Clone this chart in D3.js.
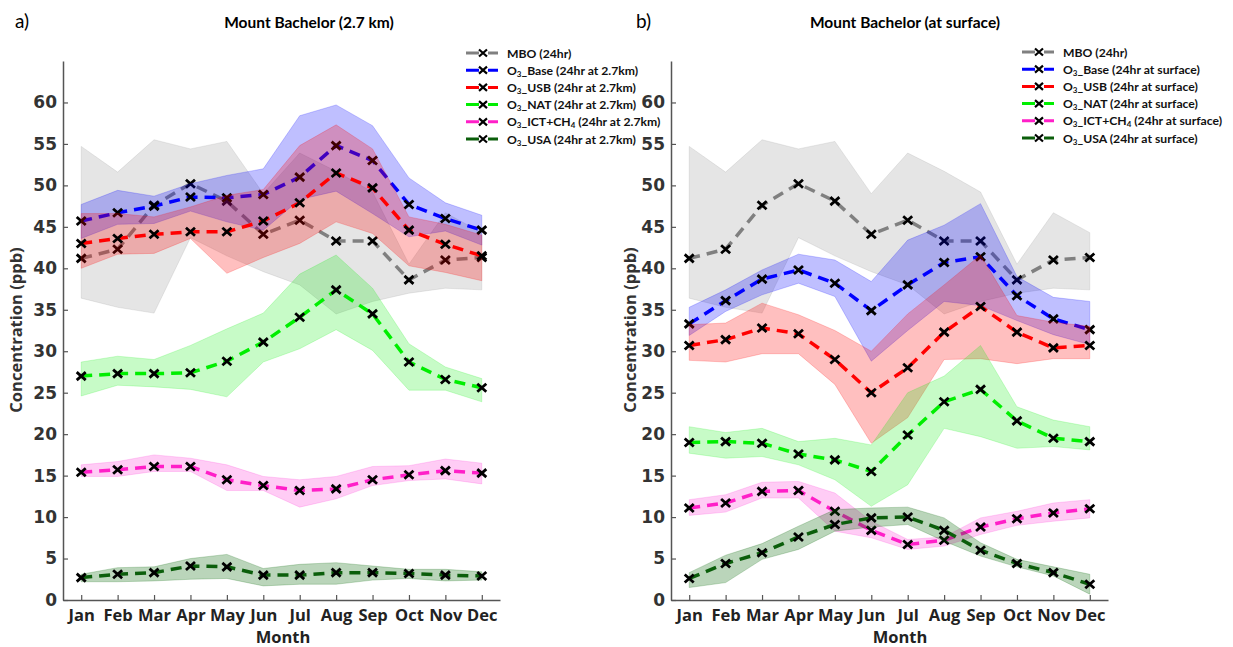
<!DOCTYPE html>
<html>
<head>
<meta charset="utf-8">
<script src="https://cdn.jsdelivr.net/npm/d3@7"></script>
<style>
  body { margin: 0; background: #fff; }
  text { font-family: "DejaVu Sans", sans-serif; }
</style>
</head>
<body>
<div id="chart"></div>
<script>
const months = ["Jan", "Feb", "Mar", "Apr", "May", "Jun", "Jul", "Aug", "Sep", "Oct", "Nov", "Dec"];
const yTicks = [0, 5, 10, 15, 20, 25, 30, 35, 40, 45, 50, 55, 60];

// MBO observations (same in both panels)
const mbo   = [41.2, 42.3, 47.6, 50.2, 48.1, 44.1, 45.8, 43.3, 43.3, 38.6, 41.0, 41.3];
const mboHi = [54.7, 51.6, 55.5, 54.4, 55.3, 49.0, 53.9, 51.7, 49.2, 40.5, 46.7, 44.3];
const mboLo = [36.4, 35.3, 34.6, 43.7, 41.5, 39.6, 38.0, 34.5, 36.0, 37.0, 37.6, 37.4];

// panel a) 24hr at 2.7 km
const base27   = [45.7, 46.7, 47.5, 48.6, 48.5, 48.9, 51.0, 54.8, 53.0, 47.7, 46.0, 44.6];
const baseHi27 = [47.7, 49.4, 48.7, 50.2, 51.2, 52.0, 58.4, 59.7, 57.2, 50.9, 47.9, 46.4];
const baseLo27 = [43.6, 45.3, 45.4, 46.9, 45.6, 44.6, 48.3, 49.3, 46.6, 43.8, 44.5, 42.8];
const usb27    = [43.0, 43.6, 44.1, 44.4, 44.4, 45.7, 47.9, 51.5, 49.7, 44.6, 42.9, 41.5];
const usbHi27  = [46.6, 46.6, 46.2, 47.4, 48.8, 49.5, 54.8, 57.3, 54.4, 46.2, 45.3, 44.0];
const usbLo27  = [40.0, 41.7, 41.8, 43.6, 39.4, 41.3, 43.0, 45.6, 44.2, 40.3, 39.5, 38.5];
const nat27    = [27.0, 27.3, 27.3, 27.4, 28.8, 31.1, 34.1, 37.4, 34.5, 28.7, 26.6, 25.6];
const natHi27  = [28.7, 29.4, 29.0, 30.7, 32.7, 34.6, 39.3, 41.6, 37.6, 30.9, 28.1, 26.7];
const natLo27  = [24.6, 25.9, 25.7, 25.4, 24.5, 28.7, 30.3, 32.6, 30.1, 25.3, 25.3, 23.9];
const ict27    = [15.4, 15.7, 16.1, 16.1, 14.5, 13.8, 13.2, 13.4, 14.5, 15.1, 15.6, 15.3];
const ictHi27  = [16.3, 16.7, 17.5, 17.1, 16.3, 14.9, 14.5, 14.9, 16.1, 16.2, 17.0, 16.5];
const ictLo27  = [14.9, 14.9, 15.5, 15.5, 13.2, 13.2, 11.2, 12.2, 13.8, 14.4, 14.6, 14.0];
const usa27    = [2.7, 3.1, 3.3, 4.1, 4.0, 3.0, 3.0, 3.3, 3.3, 3.2, 3.0, 2.9];
const usaHi27  = [3.1, 3.9, 4.0, 5.0, 5.5, 3.8, 4.3, 4.5, 4.1, 3.7, 3.7, 3.4];
const usaLo27  = [2.2, 2.2, 2.3, 2.5, 2.6, 1.7, 1.9, 1.9, 2.4, 2.6, 2.3, 2.4];

// panel b) 24hr at surface
const baseSfc   = [33.3, 36.1, 38.7, 39.8, 38.2, 34.9, 38.0, 40.7, 41.4, 36.7, 33.9, 32.6];
const baseHiSfc = [35.3, 37.4, 39.8, 41.7, 41.0, 38.4, 43.4, 45.2, 47.8, 39.0, 36.5, 36.0];
const baseLoSfc = [31.9, 34.8, 36.8, 38.2, 36.6, 28.8, 32.5, 36.0, 35.5, 33.7, 32.0, 30.8];
const usbSfc    = [30.7, 31.4, 32.8, 32.1, 29.0, 25.0, 28.0, 32.3, 35.4, 32.3, 30.4, 30.7];
const usbHiSfc  = [33.2, 33.4, 35.8, 34.4, 32.5, 30.0, 34.5, 38.0, 41.6, 34.3, 33.5, 33.0];
const usbLoSfc  = [28.9, 28.7, 29.7, 29.7, 26.0, 18.9, 22.0, 29.0, 29.1, 28.5, 29.1, 29.1];
const natSfc    = [19.0, 19.1, 18.9, 17.6, 16.9, 15.5, 19.9, 23.9, 25.4, 21.6, 19.5, 19.1];
const natHiSfc  = [20.9, 20.2, 20.7, 19.1, 19.5, 18.7, 25.0, 27.0, 30.7, 23.3, 21.7, 20.9];
const natLoSfc  = [17.7, 17.1, 17.3, 16.3, 14.5, 11.3, 13.9, 20.7, 19.7, 18.3, 18.5, 18.1];
const ictSfc    = [11.1, 11.7, 13.1, 13.2, 10.7, 8.4, 6.7, 7.2, 8.8, 9.8, 10.5, 11.0];
const ictHiSfc  = [12.1, 12.7, 14.2, 14.3, 12.9, 9.5, 7.3, 7.6, 9.9, 10.7, 11.7, 12.1];
const ictLoSfc  = [10.2, 10.6, 12.3, 12.3, 8.3, 7.5, 6.1, 6.5, 7.9, 9.0, 9.5, 9.9];
const usaSfc    = [2.6, 4.4, 5.7, 7.6, 9.1, 9.9, 10.0, 8.4, 6.0, 4.4, 3.3, 1.9];
const usaHiSfc  = [3.3, 5.4, 6.8, 8.9, 10.9, 11.1, 11.2, 9.9, 6.9, 4.9, 4.0, 3.1];
const usaLoSfc  = [1.5, 2.1, 4.9, 6.1, 8.3, 8.8, 9.1, 7.1, 5.3, 4.0, 2.9, 0.7];

const labels27  = ["MBO (24hr)", "O{3}_Base (24hr at 2.7km)", "O{3}_USB (24hr at 2.7km)", "O{3}_NAT (24hr at 2.7km)", "O{3}_ICT+CH{4} (24hr at 2.7km)", "O{3}_USA (24hr at 2.7km)"];
const labelsSfc = ["MBO (24hr)", "O{3}_Base (24hr at surface)", "O{3}_USB (24hr at surface)", "O{3}_NAT (24hr at surface)", "O{3}_ICT+CH{4} (24hr at surface)", "O{3}_USA (24hr at surface)"];

const colors = ["#808080", "#0000ff", "#ff0000", "#00ee00", "#ff1fc8", "#0b5e0b"];
const bandColors = ["#999999", "#0000ff", "#ff0000", "#00ee00", "#ff00cc", "#006400"];
const bandAlpha = [0.26, 0.25, 0.25, 0.22, 0.2, 0.27];

const svg = d3.select("#chart")
  .append("svg")
  .attr("width", 1233)
  .attr("height", 647);

const y = d3.scaleLinear().domain([0, 65]).range([600, 61]);

// adds text with {n} turned into subscripts
function richText(sel, str) {
  str.split(/(\{[^}]*\})/).filter(s => s).forEach(part => {
    if (part[0] === "{") {
      sel.append("tspan").attr("baseline-shift", "-25%").attr("font-size", "0.65em").text(part.slice(1, -1));
    } else {
      sel.append("tspan").text(part);
    }
  });
}

function drawPanel(p) {
  const x = d3.scalePoint().domain(months).range([p.left, p.right]).padding(0.5);
  const g = svg.append("g");

  p.series.forEach((s, k) => {
    const area = d3.area()
      .x((d, i) => x(months[i]))
      .y0((d, i) => y(s.lo[i]))
      .y1((d, i) => y(s.hi[i]));
    g.append("path")
      .datum(s.mid)
      .attr("d", area)
      .attr("fill", bandColors[k])
      .attr("fill-opacity", bandAlpha[k])
      .attr("stroke", bandColors[k])
      .attr("stroke-opacity", bandAlpha[k] * 0.8)
      .attr("stroke-width", 1);

    const line = d3.line().x((d, i) => x(months[i])).y(d => y(d));
    g.append("path")
      .datum(s.mid)
      .attr("d", line)
      .attr("fill", "none")
      .attr("stroke", colors[k])
      .attr("stroke-width", 3.5)
      .attr("stroke-dasharray", "11,7");

    g.selectAll(null)
      .data(s.mid)
      .enter()
      .append("path")
      .attr("d", "M-4.5,-4L4.5,4M-4.5,4L4.5,-4")
      .attr("transform", (d, i) => `translate(${x(months[i])},${y(d)})`)
      .attr("stroke", "#000")
      .attr("stroke-width", 2.8);
  });

  // axes
  const ya = g.append("g")
    .attr("transform", `translate(${p.left},0)`)
    .call(d3.axisLeft(y).tickValues(yTicks).tickSize(-5).tickSizeOuter(0).tickPadding(6));
  ya.selectAll("text").attr("font-size", 17).attr("font-weight", "bold").attr("fill", "#333")
    .style("font-family", "'DejaVu Sans', sans-serif");

  const xa = g.append("g")
    .attr("transform", "translate(0,600)")
    .call(d3.axisBottom(x).tickSize(-5).tickSizeOuter(0).tickPadding(9));
  xa.selectAll("text").attr("font-size", 16.5).attr("font-weight", "bold").attr("fill", "#222")
    .style("font-family", "'Open Sans', sans-serif");

  [ya, xa].forEach(a => {
    a.select(".domain").attr("stroke", "#555").attr("stroke-width", 1.5);
    a.selectAll(".tick line").attr("stroke", "#555").attr("stroke-width", 1.2);
  });

  g.append("text")
    .attr("transform", `translate(${p.ylabelX},330) rotate(-90)`)
    .attr("text-anchor", "middle")
    .attr("font-size", 16.5)
    .attr("font-weight", "bold")
    .attr("fill", "#333")
    .style("font-family", "'Open Sans', sans-serif")
    .text("Concentration (ppb)");

  g.append("text")
    .attr("x", p.monthX)
    .attr("y", 643)
    .attr("text-anchor", "middle")
    .attr("font-size", 16.5)
    .attr("font-weight", "bold")
    .attr("fill", "#222")
    .style("font-family", "'Open Sans', sans-serif")
    .text("Month");

  g.append("text")
    .attr("x", p.titleX)
    .attr("y", 28)
    .attr("text-anchor", "middle")
    .attr("font-size", 15.5)
    .attr("font-weight", "bold")
    .style("font-family", "Lato, sans-serif")
    .text(p.title);

  g.append("text")
    .attr("x", p.letterX)
    .attr("y", 28)
    .attr("font-size", 19)
    .style("font-family", "Lato, sans-serif")
    .text(p.letter);

  // legend
  const lg = g.append("g");
  p.labels.forEach((lab, k) => {
    const cy = p.legY + k * 17.2;
    lg.append("line")
      .attr("x1", p.legX).attr("x2", p.legX + 34)
      .attr("y1", cy).attr("y2", cy)
      .attr("stroke", colors[k])
      .attr("stroke-width", 3)
      .attr("stroke-dasharray", "13,9,10");
    lg.append("path")
      .attr("d", "M-4,-3.5L4,3.5M-4,3.5L4,-3.5")
      .attr("transform", `translate(${p.legX + 17},${cy})`)
      .attr("stroke", "#000")
      .attr("stroke-width", 2.2);
    const t = lg.append("text")
      .attr("x", p.legX + 41)
      .attr("y", cy + 4.5)
      .attr("font-size", 12.2)
      .attr("font-weight", "bold")
      .style("font-family", "Lato, sans-serif")
      .attr("fill", "#111");
    richText(t, lab);
  });
}

drawPanel({
  left: 63, right: 500, ylabelX: 22, monthX: 283, titleX: 309, letterX: 15,
  title: "Mount Bachelor (2.7 km)", letter: "a)",
  legX: 466, legY: 53, labels: labels27,
  series: [
    { mid: mbo, hi: mboHi, lo: mboLo },
    { mid: base27, hi: baseHi27, lo: baseLo27 },
    { mid: usb27, hi: usbHi27, lo: usbLo27 },
    { mid: nat27, hi: natHi27, lo: natLo27 },
    { mid: ict27, hi: ictHi27, lo: ictLo27 },
    { mid: usa27, hi: usaHi27, lo: usaLo27 }
  ]
});

drawPanel({
  left: 671, right: 1108, ylabelX: 636, monthX: 900, titleX: 905, letterX: 636,
  title: "Mount Bachelor (at surface)", letter: "b)",
  legX: 1022, legY: 52, labels: labelsSfc,
  series: [
    { mid: mbo, hi: mboHi, lo: mboLo },
    { mid: baseSfc, hi: baseHiSfc, lo: baseLoSfc },
    { mid: usbSfc, hi: usbHiSfc, lo: usbLoSfc },
    { mid: natSfc, hi: natHiSfc, lo: natLoSfc },
    { mid: ictSfc, hi: ictHiSfc, lo: ictLoSfc },
    { mid: usaSfc, hi: usaHiSfc, lo: usaLoSfc }
  ]
});
</script>
</body>
</html>
